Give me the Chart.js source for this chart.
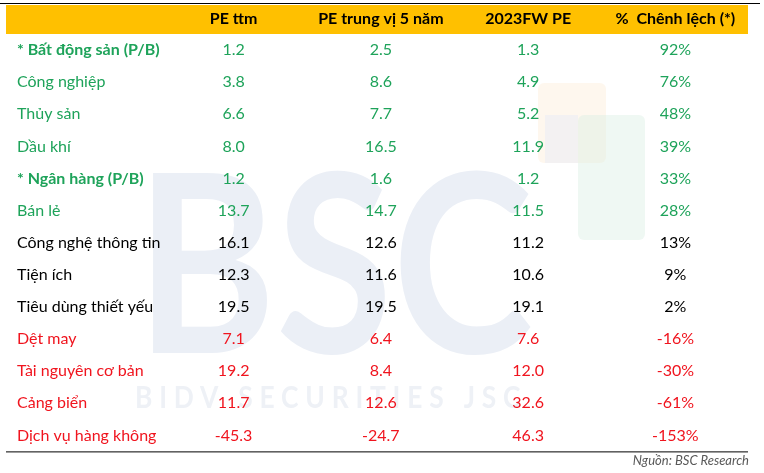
<!DOCTYPE html>
<html>
<head>
<meta charset="utf-8">
<script src="https://cdn.jsdelivr.net/npm/chart.js@4/dist/chart.umd.min.js"></script>
<style>
  html, body { margin: 0; padding: 0; background: #fff; }
  #wrap { width: 764px; height: 473px; }
</style>
</head>
<body>
<div id="wrap"><canvas id="tbl"></canvas></div>
<script>
// dữ liệu bảng
const columns = ['PE ttm', 'PE trung vị 5 năm', '2023FW PE', '%  Chênh lệch (*)'];
const sectors = ['* Bất động sản (P/B)', 'Công nghiệp', 'Thủy sản', 'Dầu khí', '* Ngân hàng (P/B)', 'Bán lẻ',
  'Công nghệ thông tin', 'Tiện ích', 'Tiêu dùng thiết yếu', 'Dệt may', 'Tài nguyên cơ bản', 'Cảng biển', 'Dịch vụ hàng không'];
const peTtm = [1.2, 3.8, 6.6, 8.0, 1.2, 13.7, 16.1, 12.3, 19.5, 7.1, 19.2, 11.7, -45.3];
const peMedian5y = [2.5, 8.6, 7.7, 16.5, 1.6, 14.7, 12.6, 11.6, 19.5, 6.4, 8.4, 12.6, -24.7];
const pe2023fw = [1.3, 4.9, 5.2, 11.9, 1.2, 11.5, 11.2, 10.6, 19.1, 7.6, 12.0, 32.6, 46.3];
const diffPct = [92, 76, 48, 39, 33, 28, 13, 9, 2, -16, -30, -61, -153];
const rowGroup = ['g', 'g', 'g', 'g', 'g', 'g', 'k', 'k', 'k', 'r', 'r', 'r', 'r'];
const boldRows = [0, 4];

const COLORS = { g: '#1ea35a', k: '#000000', r: '#f0141e' };
const FONT = 'Lato, "Open Sans", sans-serif';

const colValues = [
  peTtm.map(v => v.toFixed(1)),
  peMedian5y.map(v => v.toFixed(1)),
  pe2023fw.map(v => v.toFixed(1)),
  diffPct.map(v => v + '%')
];

// nền: watermark, thanh tiêu đề vàng, đường kẻ
const bgPlugin = {
  id: 'bg',
  beforeDraw(chart) {
    const { ctx, chartArea: a, width } = chart;
    const xs = chart.scales.x;
    ctx.save();
    // logo mờ
    ctx.fillStyle = 'rgba(253,232,205,0.35)';
    ctx.beginPath(); ctx.roundRect(538, 83, 68, 80, 6); ctx.fill();
    ctx.fillStyle = 'rgba(215,238,224,0.4)';
    ctx.beginPath(); ctx.roundRect(578, 115, 67, 125, 6); ctx.fill();
    ctx.fillStyle = 'rgba(232,236,246,0.5)';
    ctx.fillRect(545, 115, 33, 48);
    // BSC
    ctx.save();
    ctx.scale(0.85, 1);
    ctx.fillStyle = '#ebeff6';
    ctx.font = 'bold 250px ' + FONT;
    ctx.textBaseline = 'alphabetic';
    ctx.textAlign = 'left';
    ctx.fillText('BSC', 136 / 0.85, 353);
    ctx.fillStyle = '#eef1f6';
    ctx.font = 'bold 31px ' + FONT;
    ctx.letterSpacing = '8px';
    ctx.fillText('BIDV SECURITIES JSC', 135 / 0.85, 408);
    ctx.restore();
    // header
    ctx.fillStyle = '#ffc000';
    ctx.fillRect(6, xs.top + 5, 742, a.top - xs.top - 5);
    ctx.strokeStyle = '#000';
    ctx.lineWidth = 1;
    ctx.beginPath();
    ctx.moveTo(0, xs.top + 3.5); ctx.lineTo(width - 4, xs.top + 3.5);
    ctx.moveTo(6, a.bottom + 0.5); ctx.lineTo(748, a.bottom + 0.5);
    ctx.stroke();
    ctx.restore();
  }
};

// giá trị trong ô
const cellPlugin = {
  id: 'cells',
  afterDatasetsDraw(chart) {
    const { ctx } = chart;
    ctx.save();
    ctx.textAlign = 'center';
    ctx.textBaseline = 'middle';
    chart.data.datasets.forEach((ds, j) => {
      const meta = chart.getDatasetMeta(j);
      meta.data.forEach((pt, i) => {
        ctx.fillStyle = COLORS[rowGroup[i]];
        ctx.font = '16px ' + FONT;
        ctx.fillText(colValues[j][i], pt.x, pt.y);
      });
    });
    ctx.restore();
  }
};

new Chart(document.getElementById('tbl'), {
  type: 'scatter',
  data: {
    datasets: columns.map((c, j) => ({
      label: c,
      data: sectors.map(s => ({ x: c, y: s })),
      pointRadius: 0,
      pointHoverRadius: 0
    }))
  },
  options: {
    responsive: true,
    maintainAspectRatio: false,
    animation: false,
    events: [],
    layout: { padding: { left: 17, right: 15, top: 0, bottom: 0 } },
    plugins: {
      legend: { display: false },
      tooltip: { enabled: false },
      title: {
        display: true,
        position: 'bottom',
        align: 'end',
        text: 'Nguồn: BSC Research',
        color: '#595959',
        font: { family: FONT, size: 13, style: 'italic', weight: 'normal' },
        padding: { top: 2, bottom: 4 }
      }
    },
    scales: {
      x: {
        type: 'category',
        labels: columns,
        position: 'top',
        offset: true,
        grid: { display: false, drawTicks: false },
        border: { display: false },
        ticks: {
          color: '#000',
          padding: 6,
          maxRotation: 0,
          autoSkip: false,
          font: { family: FONT, size: 16, weight: 'bold' }
        },
        afterFit(axis) { axis.height = 34; }
      },
      y: {
        type: 'category',
        labels: sectors,
        offset: true,
        grid: { display: false, drawTicks: false },
        border: { display: false },
        ticks: {
          crossAlign: 'far',
          padding: 0,
          autoSkip: false,
          color: ctx => COLORS[rowGroup[ctx.index]],
          font: ctx => ({ family: FONT, size: 16, weight: boldRows.includes(ctx.index) ? 'bold' : 'normal' })
        },
        afterFit(axis) { axis.width = 143; }
      }
    }
  },
  plugins: [bgPlugin, cellPlugin]
});
</script>
</body>
</html>
